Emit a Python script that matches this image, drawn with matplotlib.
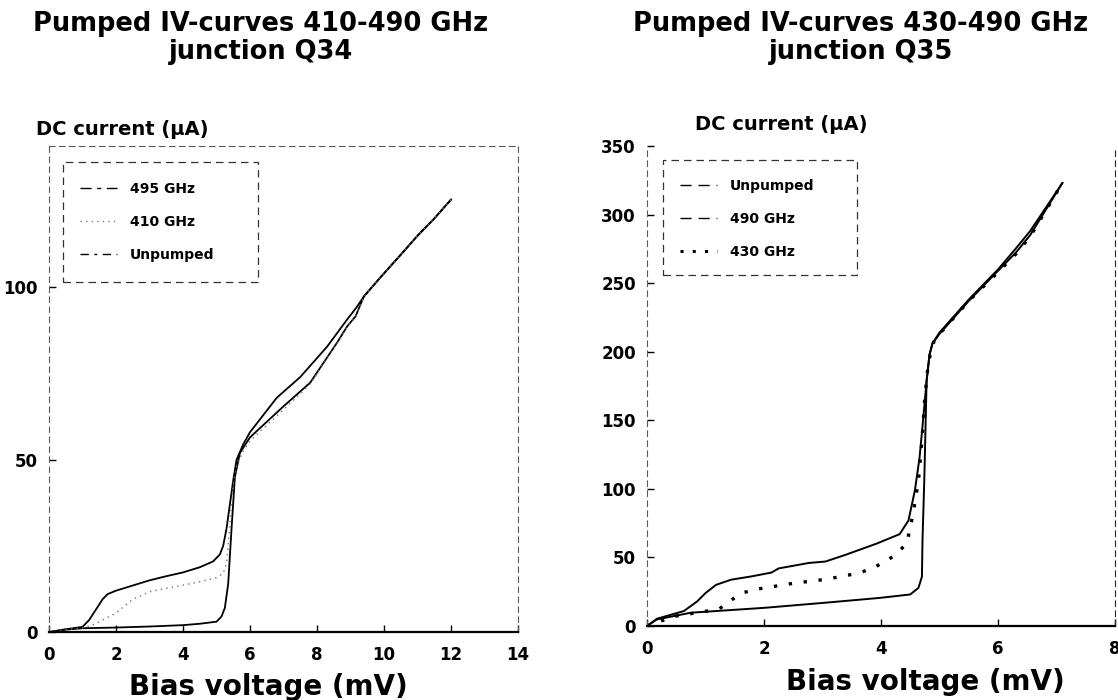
#!/usr/bin/env python3
"""Pumped IV-curves of two SIS junctions (Q34, Q35), redrawn from a scanned figure."""

import matplotlib

matplotlib.use("Agg")

import matplotlib.pyplot as plt
from matplotlib.lines import Line2D
from matplotlib.patches import Rectangle

plt.rcParams["font.family"] = ["DejaVu Sans"]
plt.rcParams["font.weight"] = "bold"

# ---- junction Q34 (left panel) ----
q34_v_495 = [0, 0.5, 1.0, 1.2, 1.4, 1.6, 1.75, 2.0, 2.5, 3.0, 3.5, 4.0, 4.5, 4.9,
             5.1, 5.2, 5.3, 5.4, 5.5, 5.6, 5.8, 6.0, 6.4, 6.8, 7.5, 8.3, 8.9, 9.2,
             9.4, 9.9, 10.5, 11.0, 11.5, 12.0]
q34_i_495 = [0, 0.8, 1.5, 3.5, 6.5, 9.5, 11.0, 12.0, 13.5, 15.0, 16.2, 17.3, 18.8,
             20.5, 22.5, 25.0, 30.0, 37.0, 44.0, 50.0, 54.5, 58.0, 63.0, 68.0, 74.0,
             82.8, 90.7, 94.5, 97.4, 103.0, 109.5, 115.0, 120.0, 125.5]

q34_v_410 = [0, 0.5, 1.0, 1.3, 1.6, 2.0, 2.5, 3.0, 3.5, 4.0, 4.5, 5.0, 5.2, 5.3,
             5.4, 5.5, 5.6, 5.8, 6.0, 6.5, 7.0, 7.8, 8.2, 8.6, 8.9, 9.15, 9.4, 9.9,
             10.5, 11.0, 11.5, 12.0]
q34_i_410 = [0, 0.7, 1.2, 2.0, 3.5, 5.5, 9.5, 11.7, 12.7, 13.6, 14.6, 15.8, 17.0,
             20.0, 31.0, 43.0, 48.0, 52.5, 55.5, 60.0, 64.5, 72.0, 78.0, 83.8, 88.5,
             91.5, 97.4, 103.0, 109.5, 115.0, 120.0, 125.5]

q34_v_unp = [0, 0.5, 1.0, 2.0, 3.0, 4.0, 4.5, 5.0, 5.15, 5.25, 5.35, 5.45, 5.55,
             5.7, 6.0, 6.5, 7.0, 7.8, 8.2, 8.6, 8.9, 9.15, 9.4, 9.9, 10.5, 11.0,
             11.5, 12.0]
q34_i_unp = [0, 0.7, 1.1, 1.3, 1.6, 2.0, 2.4, 3.0, 4.5, 7.0, 14.0, 30.0, 45.0,
             52.0, 56.5, 61.0, 65.5, 72.4, 78.2, 84.0, 88.7, 91.6, 97.4, 103.0,
             109.5, 115.0, 120.0, 125.5]

# ---- junction Q35 (right panel) ----
q35_v_490 = [0, 0.17, 0.63, 0.86, 1.0, 1.18, 1.44, 1.79, 2.13, 2.25, 2.77, 3.05,
             3.4, 3.92, 4.32, 4.47, 4.58, 4.66, 4.73, 4.78, 4.83, 4.88, 5.0, 5.5,
             6.0, 6.3, 6.55, 7.1]
q35_i_490 = [0, 5.3, 10.9, 18.0, 24.0, 30.0, 33.8, 36.2, 39.0, 42.0, 46.0, 47.0,
             52.0, 60.0, 67.0, 77.0, 99.0, 123.0, 155.0, 179.0, 198.0, 206.0, 214.0,
             238.0, 260.0, 275.0, 288.0, 323.0]

q35_v_430 = [0, 0.46, 1.04, 1.24, 1.38, 1.61, 1.9, 2.48, 3.05, 3.63, 3.92, 4.21,
             4.44, 4.55, 4.64, 4.7, 4.75, 4.8, 4.85, 4.9, 5.0, 5.5, 6.0, 6.3, 6.55,
             7.1]
q35_i_430 = [0, 7.0, 11.0, 12.6, 17.0, 24.0, 27.0, 31.0, 34.0, 38.6, 43.5, 50.7,
             60.0, 82.0, 106.0, 135.0, 167.0, 188.0, 200.0, 207.0, 213.0, 237.0,
             258.0, 271.0, 284.0, 323.0]

q35_v_unp = [0, 0.17, 0.75, 2.02, 3.05, 3.98, 4.5, 4.64, 4.7, 4.71, 4.74, 4.78,
             4.83, 4.88, 5.0, 5.5, 6.0, 6.3, 6.55, 7.1]
q35_i_unp = [0, 4.8, 9.7, 13.3, 17.0, 20.5, 23.0, 27.8, 36.0, 63.0, 106.0, 179.0,
             198.0, 206.0, 213.0, 237.0, 259.0, 272.0, 285.0, 323.0]

LEFT_TICKS_X = [0, 2, 4, 6, 8, 10, 12, 14]
LEFT_TICKS_Y = [0, 50, 100]
RIGHT_TICKS_X = [0, 2, 4, 6, 8]
RIGHT_TICKS_Y = [0, 50, 100, 150, 200, 250, 300, 350]


def style_axis(ax, xticks, yticks, top_visible=True):
    """Mimic the plotter look: solid x axis, faint dashed frame, inward ticks."""
    ax.set_xticks(xticks)
    ax.set_yticks(yticks)
    ax.tick_params(direction="in", length=5, width=1.0, labelsize=12)
    ax.tick_params(axis="x", pad=10)
    ax.tick_params(axis="y", pad=8)
    for label in ax.get_xticklabels() + ax.get_yticklabels():
        label.set_fontweight("bold")
    ax.spines["bottom"].set_linewidth(1.6)
    for side in ("left", "top", "right"):
        ax.spines[side].set_linestyle((0, (5, 4)))
        ax.spines[side].set_linewidth(0.8)
        ax.spines[side].set_color("0.35")
    ax.spines["top"].set_visible(top_visible)


def add_legend(ax, handles, labels, anchor, box):
    ax.legend(handles, labels, loc="upper left", bbox_to_anchor=anchor,
              borderaxespad=0, borderpad=0, frameon=False, handlelength=2.7,
              handletextpad=0.9, labelspacing=1.35,
              prop={"weight": "bold", "size": 10})
    x0, y0, x1, y1 = box
    ax.add_patch(Rectangle((x0, y0), x1 - x0, y1 - y0, transform=ax.transAxes,
                           fill=False, edgecolor="0.2", linewidth=0.9,
                           linestyle=(0, (6, 4))))


fig = plt.figure(figsize=(11.18, 7.0), dpi=100)
ax_left = fig.add_axes([0.0438, 0.0971, 0.4195, 0.694])
ax_right = fig.add_axes([0.5787, 0.1057, 0.4186, 0.6857])

# left panel
ax_left.plot(q34_v_unp, q34_i_unp, color="black", linewidth=1.3)
ax_left.plot(q34_v_495, q34_i_495, color="black", linewidth=1.3)
ax_left.plot(q34_v_410, q34_i_410, color="0.45", linewidth=1.0, linestyle=(0, (1, 3)))
ax_left.set_xlim(0, 14)
ax_left.set_ylim(0, 141)
style_axis(ax_left, LEFT_TICKS_X, LEFT_TICKS_Y)
add_legend(
    ax_left,
    [Line2D([], [], color="black", lw=1.0, ls=(0, (8, 4, 3, 4))),
     Line2D([], [], color="0.5", lw=1.0, ls=(0, (1, 3))),
     Line2D([], [], color="black", lw=1.0, ls=(0, (6, 4, 2, 4)))],
    ["495 GHz", "410 GHz", "Unpumped"],
    anchor=(0.066, 0.926),
    box=(0.030, 0.720, 0.446, 0.967),
)

# right panel
ax_right.plot(q35_v_unp, q35_i_unp, color="black", linewidth=1.4)
ax_right.plot(q35_v_490, q35_i_490, color="black", linewidth=1.4)
ax_right.plot(q35_v_430, q35_i_430, color="black", linewidth=2.4, linestyle=(0, (1, 3.5)))
ax_right.set_xlim(0, 8)
ax_right.set_ylim(0, 350)
style_axis(ax_right, RIGHT_TICKS_X, RIGHT_TICKS_Y, top_visible=False)
ax_right.spines["right"].set_color("0.15")
add_legend(
    ax_right,
    [Line2D([], [], color="black", lw=1.0, ls=(0, (8, 5))),
     Line2D([], [], color="black", lw=1.0, ls=(0, (8, 5))),
     Line2D([], [], color="black", lw=2.2, ls=(0, (1, 3)))],
    ["Unpumped", "490 GHz", "430 GHz"],
    anchor=(0.0705, 0.931),
    box=(0.034, 0.731, 0.449, 0.971),
)

# titles and axis captions
fig.text(0.2335, 0.946, "Pumped IV-curves 410-490 GHz\njunction Q34", ha="center",
         va="center", fontsize=18.5, fontweight="bold", linespacing=1.12)
fig.text(0.770, 0.946, "Pumped IV-curves 430-490 GHz\njunction Q35", ha="center",
         va="center", fontsize=18.5, fontweight="bold", linespacing=1.12)
fig.text(0.032, 0.815, "DC current (\u03bcA)", ha="left", va="center", fontsize=14,
         fontweight="bold")
fig.text(0.622, 0.822, "DC current (\u03bcA)", ha="left", va="center", fontsize=14,
         fontweight="bold")
fig.text(0.240, 0.019, "Bias voltage (mV)", ha="center", va="center", fontsize=20,
         fontweight="bold")
fig.text(0.828, 0.026, "Bias voltage (mV)", ha="center", va="center", fontsize=20,
         fontweight="bold")

fig.savefig("out.png", dpi=100)
